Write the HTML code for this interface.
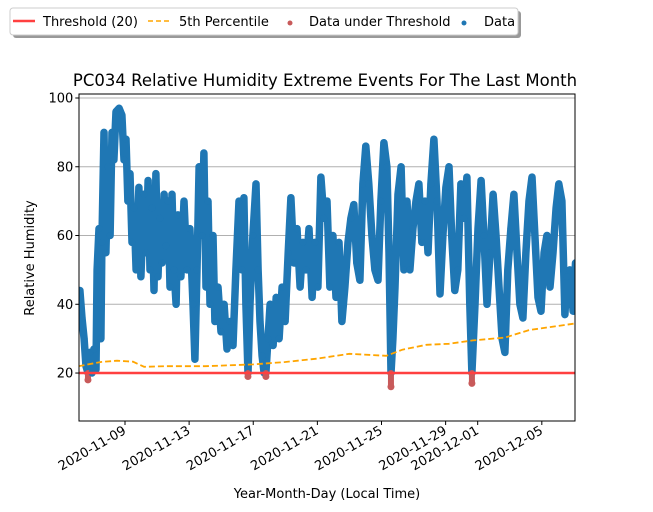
<!DOCTYPE html>
<html><head><meta charset="utf-8"><style>
html,body{margin:0;padding:0;background:#fff;}
svg{display:block;font-family:"DejaVu Sans","Liberation Sans",sans-serif;}
</style></head><body>
<svg id="chart" width="653" height="512" viewBox="0 0 653 512">
  <defs><clipPath id="pc"><rect x="79" y="94" width="496" height="327"/></clipPath></defs>
  <g>
    <rect x="13" y="11" width="508" height="27" rx="3" fill="#999"/>
    <rect x="10" y="8" width="508" height="27" rx="3" fill="#fff" stroke="#ccc"/>
    <line x1="13" y1="21" x2="35" y2="21" stroke="#ff4040" stroke-width="2.5"/>
    <text x="43" y="26" font-size="13">Threshold (20)</text>
    <line x1="148" y1="21" x2="170" y2="21" stroke="#ffa500" stroke-width="1.5" stroke-dasharray="5,3"/>
    <text x="179" y="26" font-size="13">5th Percentile</text>
    <circle cx="290" cy="23" r="2.5" fill="#c85a5a"/>
    <text x="309" y="26" font-size="13">Data under Threshold</text>
    <circle cx="464" cy="23" r="2.5" fill="#1f77b4"/>
    <text x="484" y="26" font-size="13">Data</text>
  </g>
  <text x="325" y="86" font-size="16.5" text-anchor="middle">PC034 Relative Humidity Extreme Events For The Last Month</text>
  <g id="grid"></g>
  <g id="marks" clip-path="url(#pc)"></g>
  <rect x="79" y="94" width="496" height="327" fill="none" stroke="#000" stroke-width="1"/>
  <g id="axes"></g>
  <text x="327" y="498" font-size="13" text-anchor="middle">Year-Month-Day (Local Time)</text>
  <text x="34" y="258" font-size="13" text-anchor="middle" transform="rotate(-90 34 258)">Relative Humidity</text>
</svg>
<script>
const dataDays = [-2.81,-2.68,-2.55,-2.43,-2.31,-2.19,-2.06,-1.93,-1.81,-1.74,-1.62,-1.50,-1.44,-1.31,-1.19,-1.06,-0.93,-0.81,-0.69,-0.56,-0.37,-0.19,-0.06,0.06,0.18,0.31,0.44,0.56,0.69,0.87,0.99,1.18,1.31,1.44,1.56,1.68,1.81,1.93,2.06,2.18,2.31,2.44,2.55,
2.68,2.81,2.93,3.06,3.19,3.30,3.49,3.68,3.87,4.05,4.24,4.36,4.49,4.62,4.80,4.92,5.05,5.18,5.30,5.49,5.61,5.80,5.99,6.18,6.36,6.55,6.74,6.92,7.11,7.29,7.42,7.54,7.67,7.80,7.98,8.17,8.30,8.42,8.55,8.68,8.79,8.92,9.05,9.24,9.43,9.61,9.80,9.99,10.18,10.35,10.54,10.73,10.92,11.10,11.29,11.48,11.67,11.85,12.03,12.22,12.41,12.60,12.78,12.97,13.16,13.35,13.53,13.72,13.91,14.09,14.27,14.46,14.65,14.84,15.02,15.21,15.40,15.59,15.78,15.96,16.15,16.34,16.47,16.59,16.71,16.84,17.03,17.22,17.40,17.59,17.77,17.96,18.15,18.33,18.52,18.71,18.90,19.08,19.27,19.46,19.65,19.83,20.02,20.21,20.38,20.57,20.76,20.95,21.14,21.33,21.51,21.64,21.83,22.02,22.21,22.39,22.58,22.77,22.96,23.14,23.33,23.52,23.70,23.88,24.07,24.26,24.45,24.63,24.82,25.01,25.20,25.39,25.57,25.76,25.95,26.14,26.32,26.51,26.70,26.89,27.06,27.25,27.44,27.57,27.75,27.95,28.10];
const dataValues = [44,36,30,22,18,26,20,27,21,50,62,30,58,90,55,80,60,90,82,96,97,95,82,88,70,78,58,68,50,74,48,72,55,76,50,68,44,78,48,65,52,72,57,
70,45,72,50,40,66,48,70,50,62,40,24,50,80,60,84,45,70,40,60,35,45,32,40,27,35,28,50,70,50,71,40,19,40,60,75,50,35,25,20,19,30,40,28,42,30,45,35,55,71,52,62,45,58,50,62,42,58,45,77,65,70,45,60,42,58,35,45,58,65,69,52,47,75,86,75,60,50,47,70,87,80,55,16,30,45,72,80,50,70,50,62,70,75,58,70,55,75,88,70,43,60,74,80,60,44,50,75,65,77,40,17,40,62,76,60,40,55,72,60,45,30,26,50,62,72,55,40,36,55,70,77,60,42,38,55,60,45,55,68,75,70,37,48,50,38,52];
const pctDays = [-2.9,-1.5,-0.5,0.5,1.2,2.5,5,8,10,12,14,16.3,17.3,18.8,20.2,21.7,23.7,25.2,28.2];
const pctValues = [22,23.2,23.6,23.3,21.8,22,22,22.5,23.2,24.2,25.6,25,26.8,28.2,28.5,29.5,30.3,32.5,34.5];
const threshold = 20;
const yTicks = [20,40,60,80,100];
const xTickDays = [0,4,8,12,16,20,22,26];
const xTickLabels = ["2020-11-09","2020-11-13","2020-11-17","2020-11-21","2020-11-25","2020-11-29","2020-12-01","2020-12-05"];

const NS = "http://www.w3.org/2000/svg";
const X0 = 79.3, X1 = 575, Y0 = 94, Y1 = 421;
const dMin = -2.85, dMax = 28.07, vMin = 6.05, vMax = 101.16;
const xs = d => X0 + (d - dMin) / (dMax - dMin) * (X1 - X0);
const ys = v => Y1 - (v - vMin) / (vMax - vMin) * (Y1 - Y0);
function mk(tag, attrs, parent) {
  const el = document.createElementNS(NS, tag);
  for (const k in attrs) el.setAttribute(k, attrs[k]);
  parent.appendChild(el);
  return el;
}
const grid = document.getElementById('grid');
const marks = document.getElementById('marks');
const axes = document.getElementById('axes');

yTicks.forEach(v => {
  const g = mk('line', {x1: X0, x2: X1, y1: ys(v), y2: ys(v), stroke: '#b0b0b0', 'stroke-width': 1}, grid);
  
  
  const t = mk('line', {x1: X0 - 4, x2: X0, y1: ys(v), y2: ys(v), stroke: '#000'}, axes);
  
  
  const l = mk('text', {x: X0 - 6, y: ys(v) + 4.5, 'font-size': 13, 'text-anchor': 'end'}, axes);
  l.textContent = v;
  
  
});
xTickDays.forEach((d, i) => {
  const x = xs(d);
  const t = mk('line', {x1: x, x2: x, y1: Y1, y2: Y1 + 4, stroke: '#000'}, axes);
  
  
  const l = mk('text', {x: x + 2, y: Y1 + 12, 'font-size': 13, 'text-anchor': 'end', transform: 'rotate(-30 ' + (x + 2) + ' ' + (Y1 + 12) + ')'}, axes);
  l.textContent = xTickLabels[i];
  
  
});

let pts = dataDays.map((d, i) => xs(d).toFixed(1) + ',' + ys(Math.max(dataValues[i], threshold)).toFixed(1)).join(' ');
const strip = mk('polyline', {points: pts, fill: 'none', stroke: '#1f77b4', 'stroke-width': 7.5, 'stroke-linejoin': 'round', 'stroke-linecap': 'round'}, marks);


dataDays.forEach((d, i) => {
  const v = dataValues[i];
  const under = v < threshold;
  if (under) {
    const s = mk('line', {x1: xs(d), x2: xs(d), y1: ys(threshold), y2: ys(v), stroke: '#c85a5a', 'stroke-width': 6, 'stroke-linecap': 'round'}, marks);
    
    
  }
  const c = mk('circle', {cx: xs(d), cy: ys(v), r: 3.5, fill: under ? '#c85a5a' : '#1f77b4'}, marks);
  
  
});
const th = mk('line', {x1: X0, x2: X1, y1: ys(threshold), y2: ys(threshold), stroke: '#ff4040', 'stroke-width': 2.5}, marks);


const pp = pctDays.map((d, i) => xs(d).toFixed(1) + ',' + ys(pctValues[i]).toFixed(1)).join(' ');
const pl = mk('polyline', {points: pp, fill: 'none', stroke: '#ffa500', 'stroke-width': 1.8, 'stroke-dasharray': '6,3'}, marks);


</script>
</body></html>
